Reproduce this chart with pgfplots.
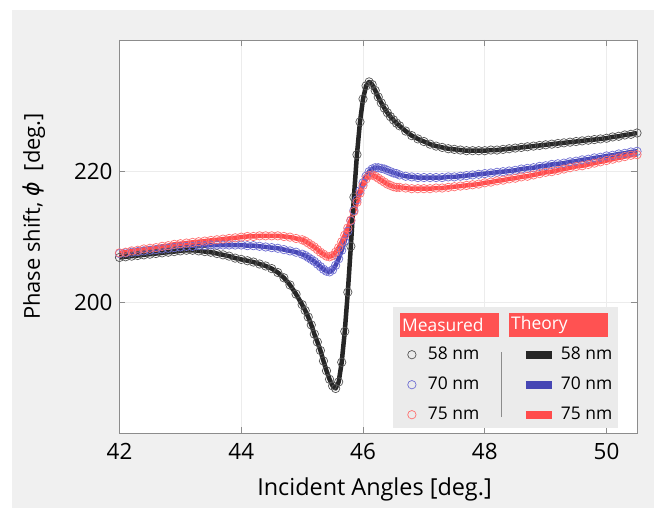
\documentclass[border=0pt]{standalone}
\usepackage{pgfplots}
\pgfplotsset{compat=1.18}
\usepackage{pgfplotstable}
\usepackage{fontspec}
\setmainfont{Open Sans}
\newfontfamily\dejavu{DejaVu Sans}

\definecolor{bgc}{HTML}{F0F0F0}
\definecolor{legbg}{HTML}{EBEBEB}
\definecolor{frame}{HTML}{8C8C8C}
\definecolor{c58}{HTML}{262626}
\definecolor{c70}{HTML}{4646B4}
\definecolor{c75}{HTML}{FF4B4B}
\definecolor{m58}{HTML}{555555}
\definecolor{m70}{HTML}{6E6ED2}
\definecolor{m75}{HTML}{FF7070}
\definecolor{hdr}{HTML}{FF5252}

\pgfplotsset{
  measleg/.style={legend image code/.code={%
    \begin{scope}[##1]\pgfuseplotmark{o}\end{scope}
    \path[draw=none, fill=none] (-4bp,0bp) -- (16bp,0bp);}},
  theoleg/.style={legend image code/.code={%
    \draw[##1] (0bp,0bp) -- (26.6bp,0bp);
    \path[draw=none, fill=none] (0bp,0bp) -- (35bp,0bp);}},
}

% x = incident angle, b = 58 nm, u = 70 nm, r = 75 nm
\pgfplotstableread{
x      b      u      r
42.0   206.8  207.4  207.5
42.1   206.9  207.5  207.6
42.2   207.0  207.6  207.8
42.3   207.1  207.7  207.9
42.4   207.2  207.8  208.1
42.5   207.3  207.9  208.2
42.6   207.4  208.0  208.3
42.7   207.5  208.1  208.5
42.8   207.6  208.2  208.6
42.9   207.7  208.3  208.8
43.0   207.8  208.4  208.9
43.1   207.9  208.5  209.0
43.2   207.9  208.5  209.1
43.3   207.8  208.6  209.2
43.4   207.7  208.6  209.3
43.5   207.6  208.7  209.4
43.6   207.4  208.7  209.5
43.7   207.2  208.7  209.6
43.8   207.0  208.7  209.7
43.9   206.7  208.7  209.8
44.0   206.5  208.7  209.9
44.1   206.3  208.6  210.0
44.2   206.1  208.6  210.0
44.3   205.8  208.5  210.1
44.4   205.5  208.4  210.1
44.5   205.1  208.3  210.1
44.6   204.5  208.2  210.1
44.7   203.7  208.0  210.0
44.8   202.6  207.8  209.9
44.9   201.2  207.6  209.7
45.0   199.6  207.3  209.5
45.05  198.7  207.1  209.3
45.10  197.7  206.8  209.0
45.15  196.5  206.5  208.7
45.20  195.1  206.2  208.4
45.25  193.9  205.8  208.0
45.30  192.6  205.4  207.6
45.35  191.0  205.0  207.3
45.40  189.5  204.7  207.0
45.45  188.2  204.6  206.9
45.50  187.2  204.9  207.1
45.55  186.8  205.6  207.6
45.60  187.8  206.6  208.3
45.65  190.8  207.9  209.2
45.70  195.5  209.3  210.2
45.75  201.5  210.8  211.3
45.80  208.5  212.4  212.5
45.85  216.0  214.0  213.8
45.90  222.5  215.6  215.2
45.95  227.5  217.0  216.6
46.00  231.0  218.2  217.8
46.05  233.0  219.2  218.8
46.10  233.6  219.9  219.3
46.15  233.2  220.3  219.4
46.20  232.3  220.5  219.2
46.25  231.3  220.5  218.9
46.30  230.4  220.4  218.6
46.35  229.6  220.3  218.3
46.40  228.9  220.1  218.0
46.45  228.3  219.9  217.8
46.50  227.8  219.7  217.6
46.55  227.3  219.6  217.5
46.60  226.9  219.4  217.5
46.7   226.1  219.2  217.4
46.8   225.4  219.1  217.3
46.9   224.9  219.0  217.3
47.0   224.5  219.0  217.3
47.1   224.1  219.0  217.3
47.2   223.8  219.0  217.4
47.3   223.6  219.0  217.4
47.4   223.4  219.1  217.5
47.5   223.3  219.1  217.6
47.6   223.2  219.2  217.7
47.7   223.1  219.3  217.8
47.8   223.1  219.4  217.9
47.9   223.1  219.5  218.0
48.0   223.1  219.6  218.2
48.1   223.2  219.7  218.3
48.2   223.2  219.8  218.5
48.3   223.3  219.9  218.6
48.4   223.4  220.0  218.8
48.5   223.5  220.1  218.9
48.6   223.6  220.3  219.1
48.7   223.7  220.4  219.2
48.8   223.8  220.5  219.4
48.9   223.9  220.7  219.6
49.0   224.0  220.8  219.8
49.1   224.1  221.0  219.9
49.2   224.2  221.1  220.1
49.3   224.3  221.2  220.3
49.4   224.4  221.4  220.5
49.5   224.5  221.5  220.7
49.6   224.6  221.7  220.8
49.7   224.7  221.8  221.0
49.8   224.8  222.0  221.2
49.9   224.9  222.1  221.4
50.0   225.0  222.3  221.6
50.1   225.2  222.4  221.8
50.2   225.3  222.6  222.0
50.3   225.5  222.7  222.2
50.4   225.6  222.9  222.4
50.5   225.8  223.0  222.5
}\phasedata

\begin{document}
\begin{tikzpicture}
\path[use as bounding box] (-119.5bp,-75bp) rectangle (534.5bp,433bp);
\fill[bgc] (-107.5bp,-75bp) rectangle (534.5bp,423bp);
\begin{axis}[
  at={(0,0)}, anchor=south west,
  scale only axis, width=517.5bp, height=393bp,
  xmin=42, xmax=50.5, ymin=180, ymax=240,
  xtick={42,44,46,48,50}, ytick={200,220},
  axis background/.style={fill=white},
  axis line style={frame, line width=0.8bp},
  tick style={frame, line width=0.8bp},
  tick align=inside, major tick length=6bp,
  grid=major, major grid style={gray!15, line width=0.6bp},
  /pgf/number format/assume math mode=true,
  ticklabel style={font=\fontsize{22.5}{26}\selectfont},
  xticklabel style={inner sep=0pt, yshift=-10bp},
  yticklabel style={inner sep=0pt, xshift=-6.8bp},
  xlabel={Incident Angles [deg.]},
  ylabel={Phase shift, {\dejavu\itshape ϕ}\ \ [deg.]},
  every axis x label/.style={at={(axis description cs:0.4928,-0.159)}, anchor=base,
    font=\fontsize{23.5}{28}\selectfont},
  every axis y label/.style={at={(axis description cs:-0.154,0.551)}, anchor=base,
    rotate=90, font=\fontsize{22}{26}\selectfont},
  legend columns=2,
  legend style={at={(axis description cs:0.5569,0.2215)}, anchor=north west,
    draw=none, fill=none, inner sep=0pt, outer sep=0pt,
    font=\fontsize{17.5}{20}\selectfont,
    nodes={inner sep=0pt, text height=13.5bp, text depth=4bp, anchor=west},
    row sep=12.5bp, column sep=0pt,
    /tikz/every even column/.style={column sep=0pt},
    /tikz/every odd column/.style={column sep=0pt}},
  meas/.style={only marks, mark=o, mark size=4.2bp, line width=0.7bp},
  theo/.style={no marks, line width=4.5bp, line join=round},
]
% measured points
\addplot[meas, m58, forget plot] table[x=x, y=b] {\phasedata};
\addplot[meas, m70, forget plot] table[x=x, y=u] {\phasedata};
\addplot[meas, m75, forget plot] table[x=x, y=r] {\phasedata};
% theory curves
\addplot[theo, c70, forget plot] table[x=x, y=u] {\phasedata};
\addplot[theo, c75, forget plot] table[x=x, y=r] {\phasedata};
\addplot[theo, c58, forget plot] table[x=x, y=b] {\phasedata};

% legend panel
\fill[legbg] ([xshift=273.5bp,yshift=5bp]rel axis cs:0,0) rectangle ([xshift=498.5bp,yshift=126bp]rel axis cs:0,0);
\node[fill=hdr, anchor=south west, inner sep=0pt, minimum height=24bp,
  font=\fontsize{17.5}{20}\selectfont, text=white]
  at ([xshift=280.5bp,yshift=96bp]rel axis cs:0,0) {\makebox[99bp][l]{\hspace{2bp}Measured}};
\node[fill=hdr, anchor=south west, inner sep=0pt, minimum height=24bp,
  font=\fontsize{17.5}{20}\selectfont, text=white]
  at ([xshift=389.5bp,yshift=96bp]rel axis cs:0,0) {\makebox[99bp][l]{\hspace{2bp}Theory}};
\draw[frame, line width=0.6bp] ([xshift=382.2bp,yshift=16bp]rel axis cs:0,0) -- ([xshift=382.2bp,yshift=81bp]rel axis cs:0,0);

\addlegendimage{meas, m58, measleg}
\addlegendentry{\makebox[94bp][l]{58 nm}}
\addlegendimage{theo, c58, line width=8bp, theoleg}
\addlegendentry{\makebox[52bp][l]{58 nm}}
\addlegendimage{meas, m70, measleg}
\addlegendentry{\makebox[94bp][l]{70 nm}}
\addlegendimage{theo, c70, line width=8bp, theoleg}
\addlegendentry{\makebox[52bp][l]{70 nm}}
\addlegendimage{meas, m75, measleg}
\addlegendentry{\makebox[94bp][l]{75 nm}}
\addlegendimage{theo, c75, line width=8bp, theoleg}
\addlegendentry{\makebox[52bp][l]{75 nm}}
\end{axis}
\end{tikzpicture}
\end{document}
